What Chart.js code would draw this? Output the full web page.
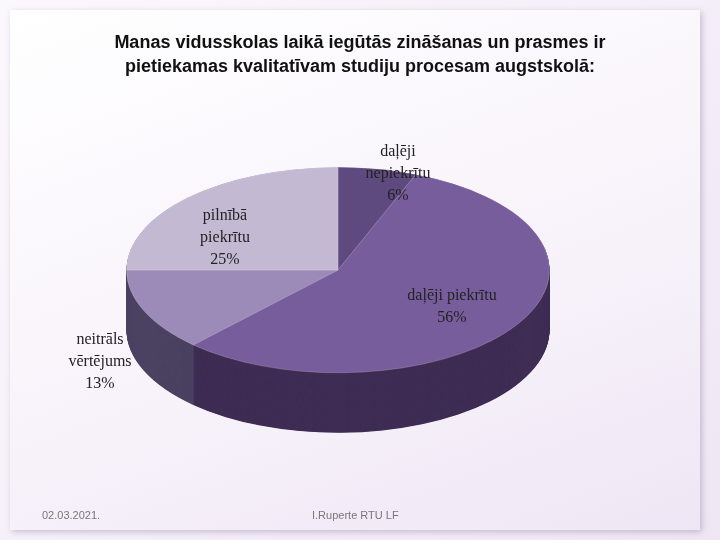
<!DOCTYPE html>
<html><head><meta charset="utf-8">
<script src="https://cdn.jsdelivr.net/npm/chart.js@4/dist/chart.umd.min.js"></script>
<style>
body{margin:0;width:720px;height:540px;overflow:hidden;background:linear-gradient(135deg,#fbf8fd,#efe6f4);font-family:"Liberation Sans",Arial,sans-serif;position:relative}
#frame{position:absolute;left:10px;top:10px;width:690px;height:520px;background:linear-gradient(160deg,#ffffff 0%,#f7f2fa 60%,#efe6f5 100%);box-shadow:2px 2px 6px rgba(120,100,140,.35)}
#c{position:absolute;left:0;top:0}
.t{position:absolute;text-align:center}
.title{left:0;width:720px;top:30px;font-weight:bold;font-size:18px;line-height:24px;color:#111}
.lab{font-family:"Liberation Serif","Times New Roman",serif;font-size:16px;line-height:22px;color:#222}
.foot{font-size:11px;color:#777;top:509px}
</style></head><body>
<div id="frame"></div>
<canvas id="c" width="720" height="540"></canvas>
<div class="t title">Manas vidusskolas laikā iegūtās zināšanas un prasmes ir<br>pietiekamas kvalitatīvam studiju procesam augstskolā:</div>
<div id="labels"></div>
<div class="t foot" style="left:42px">02.03.2021.</div>
<div class="t foot" style="left:312px">I.Ruperte RTU LF</div>
<script>
const categories=["daļēji nepiekrītu","daļēji piekrītu","neitrāls vērtējums","pilnībā piekrītu"];
const labelLines=[["daļēji","nepiekrītu"],["daļēji piekrītu"],["neitrāls","vērtējums"],["pilnībā","piekrītu"]];
const values=[6,56,13,25];
const topColors=["#5f4a80","#785d9c","#9c8ab8","#c3b9d3"];
const sideColors=["#3e2e55","#3f2d54","#4b4262","#6e6584"];
const labelPos=[[398,140,150],[452,284,200],[100,328,120],[225,204,120]];
const CX=338,CY=270,SY=0.486,DEPTH=60;
const squash={id:'squash',
 beforeDatasetsDraw(ch){const ctx=ch.ctx;ctx.save();
  ctx.translate(CX,CY);ctx.scale(1,SY);ctx.translate(-CX,-CY);
  const arcs=ch.getDatasetMeta(0).data;
  for(let d=DEPTH/SY;d>0;d-=1){arcs.forEach((a,i)=>{
    const s=a.startAngle,e=a.endAngle;
    // only visible front side
    ctx.beginPath();ctx.moveTo(a.x,a.y+d);ctx.arc(a.x,a.y+d,a.outerRadius,s,e);ctx.closePath();
    ctx.fillStyle=sideColors[i];ctx.fill();});}
 },
 afterDatasetsDraw(ch){ch.ctx.restore();}};
new Chart(document.getElementById('c'),{type:'pie',
 data:{labels:categories,datasets:[{data:values,backgroundColor:topColors,borderColor:'rgba(255,255,255,0.25)',borderWidth:1}]},
 options:{responsive:false,animation:false,rotation:0,
  layout:{padding:{left:126,right:170,top:58,bottom:58}},
  plugins:{legend:{display:false},tooltip:{enabled:false}}},
 plugins:[squash]});
const L=document.getElementById('labels');
values.forEach((v,i)=>{const p=labelPos[i];const d=document.createElement('div');
 d.className='t lab';d.style.left=(p[0]-p[2]/2)+'px';d.style.width=p[2]+'px';d.style.top=p[1]+'px';
 d.innerHTML=labelLines[i].join('<br>')+'<br>'+v+'%';L.appendChild(d);});
</script>
</body></html>
